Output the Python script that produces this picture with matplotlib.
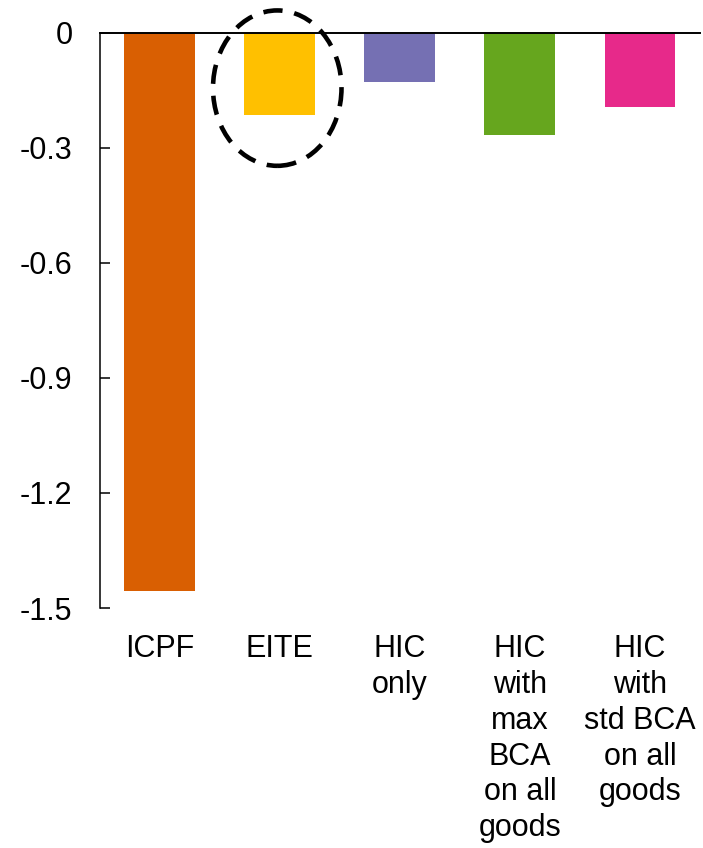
import matplotlib
matplotlib.use("Agg")
import matplotlib.pyplot as plt
from matplotlib.patches import Ellipse

categories = ["ICPF", "EITE", "HIC\nonly", "HIC\nwith\nmax\nBCA\non all\ngoods", "HIC\nwith\nstd BCA\non all\ngoods"]
values = [-1.455, -0.215, -0.129, -0.266, -0.193]
colors = ["#D95F02", "#FFC000", "#7570B3", "#66A61E", "#E7298A"]
yticks = [0, -0.3, -0.6, -0.9, -1.2, -1.5]
ytick_labels = ["0", "-0.3", "-0.6", "-0.9", "-1.2", "-1.5"]

plt.rcParams['font.family'] = ['Liberation Sans', 'DejaVu Sans']

W, H = 703, 848
fig = plt.figure(figsize=(W / 100, H / 100), dpi=100)
ax = fig.add_axes([99.5 / W, 1 - 608 / H, (700 - 99.5) / W, (608 - 32.5) / H])

x = list(range(len(categories)))
ax.bar(x, values, width=0.59, color=colors, zorder=2)
ax.set_xlim(-0.5, 4.5)
ax.set_ylim(-1.5, 0)

ax.set_yticks(yticks)
ax.set_yticklabels(ytick_labels, fontsize=22)
ax.tick_params(axis='y', direction='in', length=7, width=1.1, pad=19.5)

ax.set_xticks(x)
ax.set_xticklabels(categories, fontsize=22, linespacing=1.25, va='top')
ax.tick_params(axis='x', length=0, pad=19)

for s in ['right', 'bottom']:
    ax.spines[s].set_visible(False)
ax.spines['left'].set_linewidth(1.1)
ax.spines['top'].set_linewidth(1.4)
ax.spines['top'].set_zorder(3)

ell = Ellipse((0.98, -0.145), 1.07, 0.405, fill=False, edgecolor='black',
              linewidth=3.3, linestyle=(0, (4.2, 2.6)), clip_on=False, zorder=4)
ax.add_patch(ell)

fig.savefig("out.png", dpi=100)
